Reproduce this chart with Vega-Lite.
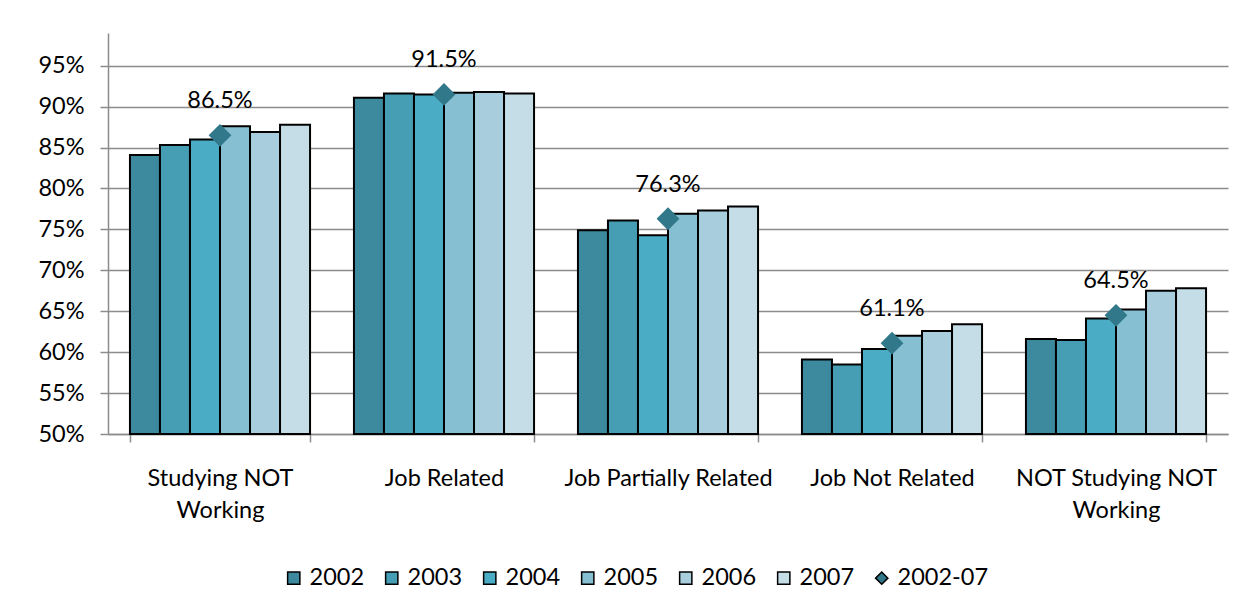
{
  "$schema": "https://vega.github.io/schema/vega-lite/v6.json",
  "width": 1120,
  "height": 401,
  "autosize": {"type": "none"},
  "padding": {"left": 108, "top": 33, "right": 26, "bottom": 179},
  "background": "white",
  "config": {
    "font": "Lato",
    "view": {"stroke": null},
    "axis": {
      "labelColor": "black",
      "labelFontSize": 23.5,
      "labelFont": "Lato",
      "domainColor": "#8c8c8c",
      "domainWidth": 1.5,
      "tickColor": "#8c8c8c",
      "tickWidth": 1.5,
      "title": null
    }
  },
  "datasets": {
    "yearly": [
      {"category": "Studying NOT Working", "series": "2002", "share": 0.841},
      {"category": "Studying NOT Working", "series": "2003", "share": 0.853},
      {"category": "Studying NOT Working", "series": "2004", "share": 0.860},
      {"category": "Studying NOT Working", "series": "2005", "share": 0.876},
      {"category": "Studying NOT Working", "series": "2006", "share": 0.869},
      {"category": "Studying NOT Working", "series": "2007", "share": 0.878},
      {"category": "Job Related", "series": "2002", "share": 0.911},
      {"category": "Job Related", "series": "2003", "share": 0.916},
      {"category": "Job Related", "series": "2004", "share": 0.915},
      {"category": "Job Related", "series": "2005", "share": 0.917},
      {"category": "Job Related", "series": "2006", "share": 0.918},
      {"category": "Job Related", "series": "2007", "share": 0.916},
      {"category": "Job Partially Related", "series": "2002", "share": 0.749},
      {"category": "Job Partially Related", "series": "2003", "share": 0.761},
      {"category": "Job Partially Related", "series": "2004", "share": 0.743},
      {"category": "Job Partially Related", "series": "2005", "share": 0.769},
      {"category": "Job Partially Related", "series": "2006", "share": 0.773},
      {"category": "Job Partially Related", "series": "2007", "share": 0.778},
      {"category": "Job Not Related", "series": "2002", "share": 0.591},
      {"category": "Job Not Related", "series": "2003", "share": 0.585},
      {"category": "Job Not Related", "series": "2004", "share": 0.604},
      {"category": "Job Not Related", "series": "2005", "share": 0.620},
      {"category": "Job Not Related", "series": "2006", "share": 0.626},
      {"category": "Job Not Related", "series": "2007", "share": 0.634},
      {"category": "NOT Studying NOT Working", "series": "2002", "share": 0.616},
      {"category": "NOT Studying NOT Working", "series": "2003", "share": 0.615},
      {"category": "NOT Studying NOT Working", "series": "2004", "share": 0.641},
      {"category": "NOT Studying NOT Working", "series": "2005", "share": 0.652},
      {"category": "NOT Studying NOT Working", "series": "2006", "share": 0.675},
      {"category": "NOT Studying NOT Working", "series": "2007", "share": 0.678}
    ],
    "overall": [
      {"category": "Studying NOT Working", "series": "2002-07", "share": 0.865},
      {"category": "Job Related", "series": "2002-07", "share": 0.915},
      {"category": "Job Partially Related", "series": "2002-07", "share": 0.763},
      {"category": "Job Not Related", "series": "2002-07", "share": 0.611},
      {"category": "NOT Studying NOT Working", "series": "2002-07", "share": 0.645}
    ]
  },
  "encoding": {
    "x": {
      "field": "category",
      "type": "nominal",
      "sort": null,
      "scale": {
        "domain": ["Studying NOT Working", "Job Related", "Job Partially Related", "Job Not Related", "NOT Studying NOT Working"],
        "paddingInner": 0.196,
        "paddingOuter": 0.098
      },
      "axis": {
        "labelAngle": 0,
        "tickBand": "extent",
        "tickSize": 8,
        "labelPadding": 24,
        "labelLineHeight": 32,
        "labelLimit": 400,
        "labelExpr": "datum.value == 'Studying NOT Working' ? ['Studying NOT', 'Working'] : datum.value == 'NOT Studying NOT Working' ? ['NOT Studying NOT', 'Working'] : datum.label"
      }
    },
    "y": {
      "field": "share",
      "type": "quantitative",
      "scale": {"domain": [0.5, 0.99], "zero": false, "nice": false},
      "axis": {
        "values": [0.5, 0.55, 0.6, 0.65, 0.7, 0.75, 0.8, 0.85, 0.9, 0.95],
        "format": ".0%",
        "grid": true,
        "gridColor": "#8c8c8c",
        "gridWidth": 1.5,
        "tickSize": 8,
        "labelPadding": 16
      }
    }
  },
  "layer": [
    {
      "data": {"name": "yearly"},
      "mark": {"type": "bar", "stroke": "black", "strokeWidth": 2},
      "encoding": {
        "xOffset": {"field": "series", "type": "nominal", "scale": {"paddingInner": 0, "paddingOuter": 0}},
        "y2": {"datum": 0.5},
        "color": {
          "field": "series",
          "type": "nominal",
          "scale": {
            "domain": ["2002", "2003", "2004", "2005", "2006", "2007", "2002-07"],
            "range": ["#3d8a9f", "#459eb4", "#4bacc6", "#86bfd2", "#a8cedd", "#c5dde7", "#31788b"]
          },
          "legend": {
            "title": null,
            "orient": "none",
            "legendX": 174,
            "legendY": 533,
            "direction": "horizontal",
            "columns": 7,
            "padding": 0,
            "labelFontSize": 23.5,
            "labelFont": "Lato",
            "labelColor": "black",
            "labelOffset": 4,
            "columnPadding": 15,
            "symbolSize": 150,
            "symbolStrokeWidth": 1.5,
            "symbolOpacity": 1,
            "encode": {
              "symbols": {
                "update": {
                  "stroke": {"signal": "datum.value === '2002-07' ? null : 'black'"}
                }
              }
            }
          }
        }
      }
    },
    {
      "data": {"name": "overall"},
      "mark": {"type": "point", "filled": true, "size": 520, "opacity": 1},
      "encoding": {
        "color": {"field": "series", "type": "nominal"},
        "shape": {
          "field": "series",
          "type": "nominal",
          "scale": {
            "domain": ["2002", "2003", "2004", "2005", "2006", "2007", "2002-07"],
            "range": ["square", "square", "square", "square", "square", "square", "diamond"]
          }
        }
      }
    },
    {
      "data": {"name": "overall"},
      "mark": {"type": "text", "baseline": "alphabetic", "dy": -27, "fontSize": 23.5, "font": "Lato", "color": "black"},
      "encoding": {
        "text": {"field": "share", "type": "quantitative", "format": ".1%"}
      }
    }
  ]
}
